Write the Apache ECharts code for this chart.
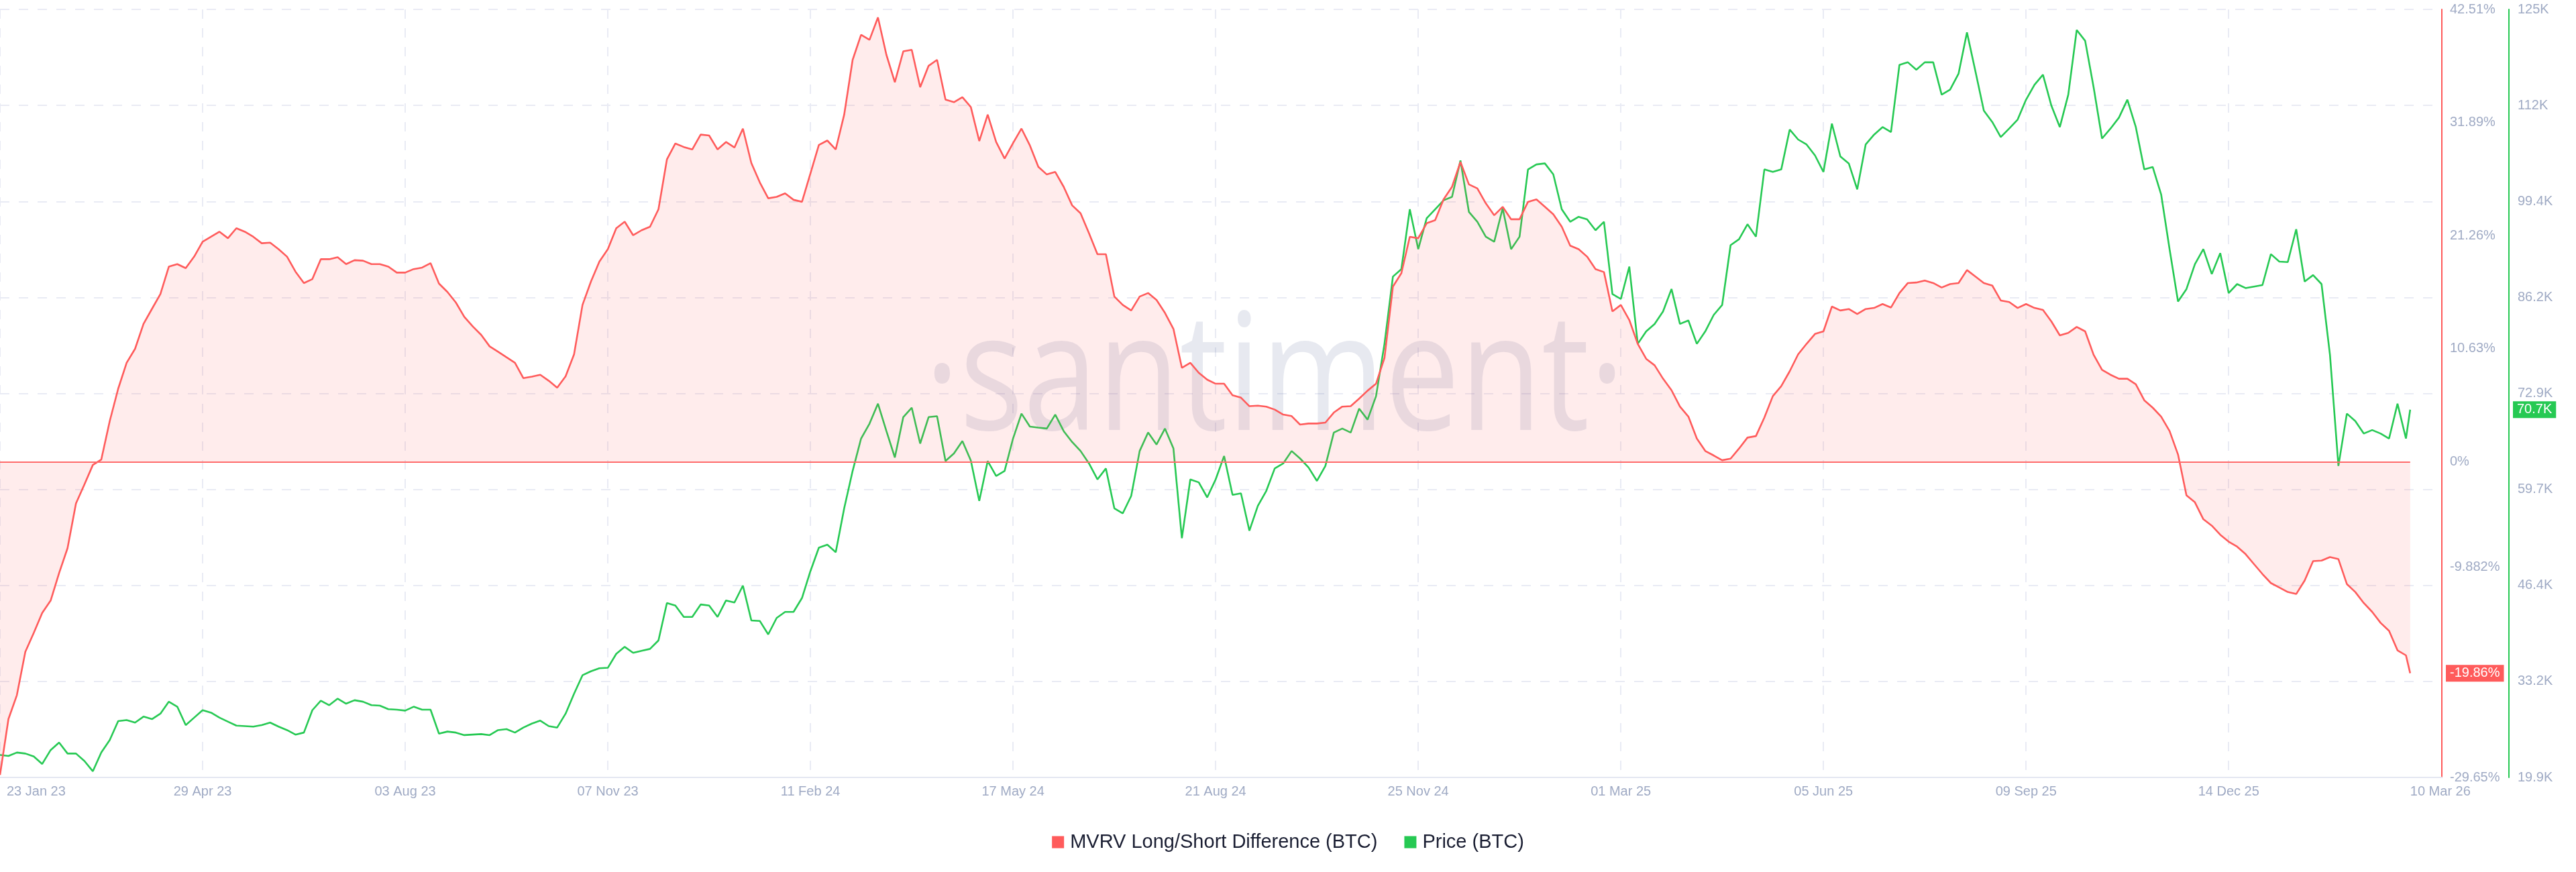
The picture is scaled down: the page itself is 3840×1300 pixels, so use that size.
<!DOCTYPE html>
<html><head><meta charset="utf-8">
<script src="https://cdn.jsdelivr.net/npm/echarts@6/dist/echarts.min.js"></script>
<style>html,body{margin:0;padding:0;background:#fff}#c{width:3840px;height:1300px}</style>
</head><body><div id="c"></div>
<script>
const DAY = 86400000;
const startDate = Date.UTC(2023, 0, 23);
const stepDays = 4;
const endDate = Date.UTC(2026, 2, 10);
const axisEnd = Date.UTC(2026, 2, 25);

const mvrvName = 'MVRV Long/Short Difference (BTC)';
const priceName = 'Price (BTC)';

// MVRV Long/Short Difference, % (sampled every 4 days, last point = 10 Mar 26)
const mvrv = [
-29.41,-24.17,-21.92,-17.85,-16.07,-14.20,-13.03,-10.45,-8.11,-3.90,-2.12,-0.29,0.22,3.83,6.87,9.31,10.62,12.96,14.37,15.77,
18.34,18.58,18.20,19.28,20.68,21.15,21.62,21.01,21.95,21.62,21.15,20.54,20.59,19.98,19.28,17.87,16.80,17.17,19.04,19.04,
19.23,18.58,18.95,18.90,18.58,18.58,18.34,17.78,17.78,18.11,18.25,18.67,16.75,15.96,14.97,13.62,12.72,11.93,10.85,
10.34,9.82,9.31,7.86,8.00,8.18,7.62,6.97,8.04,10.10,14.74,16.94,18.81,19.98,21.95,22.56,21.29,21.76,22.09,23.73,
28.41,29.91,29.58,29.35,30.75,30.66,29.35,30.05,29.53,31.31,28.08,26.26,24.76,24.90,25.23,24.62,24.43,27.10,29.77,30.19,
29.35,32.62,37.77,40.12,39.65,41.75,38.24,35.67,38.57,38.71,35.20,37.21,37.77,34.03,33.79,34.26,33.33,30.14,
32.62,30.05,28.50,29.95,31.31,29.72,27.71,27.00,27.24,25.84,24.10,23.35,21.48,19.51,19.51,15.53,14.74,14.22,15.53,15.86,
15.21,13.99,12.49,8.84,9.31,8.37,7.72,7.34,7.34,6.26,6.03,5.23,5.28,5.19,4.91,4.44,4.30,3.50,3.60,3.60,
3.69,4.63,5.19,5.23,5.94,6.69,7.34,9.77,16.47,17.73,21.15,21.01,22.42,22.70,24.66,25.84,28.17,26.07,
25.69,24.29,23.17,23.96,22.79,22.79,24.43,24.66,23.96,23.26,22.09,20.31,19.98,19.28,18.11,17.83,14.13,14.74,13.33,11.09,
9.68,9.07,7.81,6.73,5.19,4.25,2.19,1.02,0.60,0.15,0.30,1.25,2.28,2.42,4.16,6.17,7.11,8.51,10.10,11.09,
12.02,12.26,14.59,14.22,14.36,13.89,14.36,14.46,14.83,14.50,15.86,16.80,16.85,17.03,16.80,16.38,16.70,16.80,
18.02,17.41,16.80,16.56,15.16,15.02,14.46,14.83,14.46,14.27,13.19,11.88,12.12,12.68,12.26,10.06,8.65,8.18,7.81,7.81,
7.29,5.79,5.09,4.25,2.89,0.69,-3.15,-3.80,-5.39,-6.00,-6.85,-7.50,-7.97,-8.67,-9.61,-10.54,-11.39,-11.81,-12.23,-12.42,
-11.15,-9.33,-9.28,-8.95,-9.14,-11.48,-12.23,-13.26,-14.10,-15.13,-15.88,-17.71,-18.18,-19.86
];

// BTC price, thousands of USD (same sampling)
const price = [
23.05,22.91,23.39,23.25,22.84,21.81,23.73,24.77,23.25,23.25,22.22,20.80,23.39,25.11,27.72,27.86,27.52,28.34,28.00,28.75,
30.40,29.71,27.17,28.20,29.23,28.89,28.20,27.65,27.10,27.03,26.96,27.17,27.52,26.96,26.48,25.86,26.14,29.23,30.54,29.92,
30.82,30.13,30.61,30.40,29.92,29.85,29.37,29.30,29.17,29.71,29.30,29.30,25.99,26.28,26.14,25.79,25.86,25.93,25.79,
26.48,26.62,26.14,26.83,27.38,27.79,27.03,26.83,28.75,31.50,34.05,34.60,35.01,35.08,37.01,37.97,37.14,37.42,37.69,38.86,
44.02,43.68,42.10,42.10,43.82,43.68,42.10,44.37,44.09,46.43,41.62,41.55,39.69,41.96,42.79,42.79,44.71,48.42,51.66,52.07,
51.04,57.09,62.25,66.72,68.78,71.53,67.75,64.11,69.68,70.98,66.03,69.68,69.81,63.62,64.66,66.38,63.69,58.12,
63.62,61.56,62.25,66.72,70.16,68.37,68.23,68.10,70.02,67.75,66.24,65.00,63.28,61.08,62.59,57.09,56.40,58.81,65.00,67.55,
65.90,68.10,65.35,52.96,61.08,60.67,58.60,61.08,64.31,58.95,59.15,54.00,57.43,59.50,62.59,63.28,65.00,63.97,62.73,60.87,
62.94,67.55,68.10,67.55,70.85,69.33,72.57,79.79,89.07,90.10,98.36,92.86,97.12,98.36,99.60,100.08,105.10,98.01,
96.64,94.58,93.89,98.50,92.86,94.58,103.86,104.55,104.69,103.17,98.36,96.64,97.33,96.98,95.47,96.64,86.67,85.98,90.45,79.79,
81.51,82.54,84.26,87.36,82.54,83.02,79.79,81.51,83.78,85.15,93.41,94.23,96.30,94.58,103.86,103.52,103.86,109.36,107.99,107.30,
105.79,103.52,110.19,105.65,104.69,101.11,107.30,108.67,109.71,109.02,118.30,118.65,117.62,118.65,118.65,114.18,114.87,117.07,
122.77,117.41,111.98,110.40,108.33,109.50,110.74,113.49,115.55,116.93,112.66,109.71,114.18,123.10,121.61,115.21,108.13,109.50,111.01,113.49,
109.71,103.86,104.20,100.42,92.86,85.64,87.35,90.79,92.86,89.42,92.31,86.80,88.04,87.49,87.70,87.90,92.17,91.14,91.07,95.61,
88.39,89.28,88.04,78.27,62.94,70.16,69.13,67.41,67.89,67.41,66.72,71.53,66.72,70.70
];

const xTickDates = ['2023-01-23','2023-04-29','2023-08-03','2023-11-07','2024-02-11','2024-05-17','2024-08-21','2024-11-25','2025-03-01','2025-06-05','2025-09-09','2025-12-14','2026-03-10'];
const xTickLabels = ['23 Jan 23','29 Apr 23','03 Aug 23','07 Nov 23','11 Feb 24','17 May 24','21 Aug 24','25 Nov 24','01 Mar 25','05 Jun 25','09 Sep 25','14 Dec 25','10 Mar 26'];
const pctTickValues = [-29.65, -9.882, 0, 10.63, 21.26, 31.89, 42.51];
const pctTickLabels = ['-29.65%', '-9.882%', '0%', '10.63%', '21.26%', '31.89%', '42.51%'];
const priceTickValues = [19.95, 33.2, 46.45, 59.7, 72.95, 86.2, 99.45, 112.7, 125.95];
const priceTickLabels = ['19.9K', '33.2K', '46.4K', '59.7K', '72.9K', '86.2K', '99.4K', '112K', '125K'];

const toTs = s => { const p = s.split('-').map(Number); return Date.UTC(p[0], p[1] - 1, p[2]); };
const xTickTs = xTickDates.map(toTs);
const times = mvrv.map((_, i) => i === mvrv.length - 1 ? endDate : startDate + i * stepDays * DAY);
const mvrvData = mvrv.map((v, i) => [times[i], v]);
const priceData = price.map((v, i) => [times[i], v]);
const lastMvrv = mvrv[mvrv.length - 1];
const lastPrice = price[price.length - 1];

const FONT = '"Liberation Sans", Arial, Helvetica, sans-serif';
const LABEL_COLOR = '#9faac4';
const GRID_COLOR = '#e9ebf4';
const HIDDEN_LINE = { color: 'rgba(0,0,0,0)', width: 0, opacity: 1 };

function nearestLabel(val, values, labels) {
  let best = 0, bd = Infinity;
  values.forEach((v, i) => { const d = Math.abs(v - val); if (d < bd) { bd = d; best = i; } });
  return labels[best];
}

const chart = echarts.init(document.getElementById('c'), null, { renderer: 'canvas' });
chart.setOption({
  animation: false,
  backgroundColor: '#ffffff',
  grid: { left: 0, right: 200, top: 14, bottom: 141 },
  legend: {
    data: [mvrvName, priceName],
    top: 1236, left: 'center',
    icon: 'rect', itemWidth: 18, itemHeight: 18, itemGap: 40,
    textStyle: { fontSize: 29, color: '#1b1f33', fontFamily: FONT, padding: [0, 0, 0, 4] }
  },
  graphic: [{
    type: 'text', silent: true, z: 1,
    x: 1900, y: 572, scaleX: 0.82,
    style: {
      text: '\u00B7santiment\u00B7',
      font: '243px "Open Sans", "Noto Sans", sans-serif',
      fill: 'rgba(40,55,120,0.11)',
      textAlign: 'center', textVerticalAlign: 'middle'
    }
  }],
  xAxis: {
    type: 'value', min: startDate, max: axisEnd,
    axisLine: { onZero: false, lineStyle: { color: '#e4e7f1', width: 2 } },
    axisTick: { show: false, customValues: xTickTs.slice(0, 12) },
    splitLine: { show: true, lineStyle: { color: GRID_COLOR, width: 2, type: [14, 14] } },
    axisLabel: {
      customValues: xTickTs,
      color: LABEL_COLOR, fontSize: 20, fontFamily: FONT, margin: 11,
      alignMinLabel: 'left', alignMaxLabel: 'left',
      formatter: (v) => {
        const t = nearestLabel(v, xTickTs, xTickLabels);
        return t === xTickLabels[0] ? '{p|' + t + '}' : t;
      },
      rich: { p: { padding: [0, 0, 0, 10], color: LABEL_COLOR, fontSize: 20, fontFamily: FONT } }
    }
  },
  yAxis: [{
    type: 'value', position: 'right', offset: 0,
    min: -29.65, max: 42.51,
    axisLine: { show: true, onZero: false, lineStyle: { color: '#ff5b5b', width: 2 } },
    axisTick: { show: false, customValues: pctTickValues },
    splitLine: { show: false },
    axisLabel: {
      customValues: pctTickValues, margin: 12,
      color: LABEL_COLOR, fontSize: 20, fontFamily: FONT,
      formatter: v => nearestLabel(v, pctTickValues, pctTickLabels)
    }
  }, {
    type: 'value', position: 'right', offset: 100,
    min: 19.95, max: 125.95,
    axisLine: { show: true, onZero: false, lineStyle: { color: '#26c953', width: 2 } },
    axisTick: { show: false, customValues: priceTickValues },
    splitLine: { show: true, lineStyle: { color: GRID_COLOR, width: 2, type: [14, 14] } },
    axisLabel: {
      customValues: priceTickValues, margin: 13,
      color: LABEL_COLOR, fontSize: 20, fontFamily: FONT,
      formatter: v => nearestLabel(v, priceTickValues, priceTickLabels)
    }
  }],
  series: [{
    name: priceName, type: 'line', yAxisIndex: 1, z: 2, clip: false,
    data: priceData, showSymbol: false, symbol: 'none',
    color: '#26c953', lineStyle: { color: '#26c953', width: 2.6 },
    markLine: {
      silent: true, symbol: ['none', 'none'], animation: false, z: 10,
      lineStyle: HIDDEN_LINE,
      data: [{
        yAxis: lastPrice,
        lineStyle: HIDDEN_LINE,
        label: {
          show: true, position: 'end', distance: 106, opacity: 1,
          formatter: () => lastPrice.toFixed(1) + 'K',
          backgroundColor: '#26c953', color: '#ffffff',
          fontSize: 20, fontFamily: FONT, padding: [3, 6, 2, 6]
        }
      }]
    }
  }, {
    name: mvrvName, type: 'line', yAxisIndex: 0, z: 3, clip: false,
    data: mvrvData, showSymbol: false, symbol: 'none',
    color: '#ff5b5b', lineStyle: { color: '#ff5b5b', width: 2.6 },
    areaStyle: { color: 'rgba(255,91,91,0.17)', origin: 0 },
    markLine: {
      silent: true, symbol: ['none', 'none'], animation: false, z: 10,
      data: [
        [
          { coord: [startDate, 0], lineStyle: { color: '#ff6b6b', width: 2, type: 'solid' }, label: { show: false } },
          { coord: [endDate, 0] }
        ],
        {
          yAxis: lastMvrv,
          lineStyle: HIDDEN_LINE,
          label: {
            show: true, position: 'end', distance: 6, opacity: 1,
            formatter: () => lastMvrv.toFixed(2) + '%',
            backgroundColor: '#ff5b5b', color: '#ffffff',
            fontSize: 20, fontFamily: FONT, padding: [3, 6, 2, 6]
          }
        }
      ]
    }
  }]
});
</script>
</body></html>
